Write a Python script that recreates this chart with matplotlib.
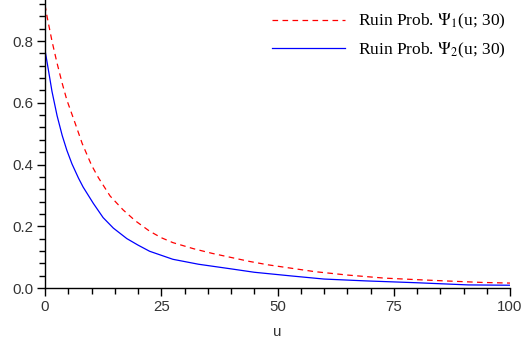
import matplotlib
matplotlib.use("Agg")
import matplotlib.pyplot as plt
from matplotlib.ticker import MultipleLocator, FormatStrFormatter

# ruin probability readings, psi_1 (red dashed) and psi_2 (blue)
u1 = [0, 0.5, 1.5, 2.6, 3.7, 4.7, 6.5, 8, 10, 11.5, 14, 16.8, 19.4, 22.5, 25,
      27.5, 32, 36, 40, 44, 48, 53, 58, 65, 73, 80, 86, 94, 100]
psi1 = [0.917, 0.875, 0.80, 0.728, 0.663, 0.609, 0.533, 0.468, 0.398, 0.357,
        0.298, 0.253, 0.218, 0.184, 0.163, 0.147, 0.127, 0.112, 0.099, 0.086,
        0.075, 0.064, 0.053, 0.042, 0.032, 0.027, 0.023, 0.018, 0.016]

u2 = [0, 0.8, 1.5, 2.6, 3.7, 4.7, 5.8, 7.2, 8.2, 10.4, 12.5, 14.7, 17.6, 20,
      22.5, 27.5, 33, 40, 45, 53, 60, 69, 80, 91, 100]
psi2 = [0.771, 0.70, 0.637, 0.558, 0.494, 0.446, 0.402, 0.356, 0.327, 0.274,
        0.228, 0.194, 0.160, 0.139, 0.119, 0.093, 0.077, 0.062, 0.051, 0.039,
        0.029, 0.023, 0.017, 0.010, 0.009]

labels = [r"Ruin Prob. $\Psi_1$(u; 30)", r"Ruin Prob. $\Psi_2$(u; 30)"]

plt.rcParams['mathtext.fontset'] = 'stix'

fig = plt.figure(figsize=(5.21, 3.41), dpi=100)
ax = fig.add_axes([45/521, 53/341, 465/521, 288/341])

ax.plot(u1, psi1, color='#ff0000', linewidth=0.9, dashes=(4.5, 3.5), label=labels[0])
ax.plot(u2, psi2, color='#0000ff', linewidth=0.9, label=labels[1])

ax.set_xlim(0, 100)
ax.set_ylim(0, 0.933)
ax.spines['top'].set_visible(False)
ax.spines['right'].set_visible(False)
for s in ['left', 'bottom']:
    ax.spines[s].set_linewidth(1.0)

ax.xaxis.set_major_locator(MultipleLocator(25))
ax.xaxis.set_minor_locator(MultipleLocator(5))
ax.yaxis.set_major_locator(MultipleLocator(0.2))
ax.yaxis.set_minor_locator(MultipleLocator(0.04))
ax.yaxis.set_major_formatter(FormatStrFormatter('%.1f'))
ax.tick_params(which='major', length=6, width=1.0, labelsize=10.8,
               labelcolor='#333333', pad=2.5)
ax.tick_params(which='minor', length=4, width=1.0)
for lab in ax.get_xticklabels() + ax.get_yticklabels():
    lab.set_family('Liberation Sans')

ax.set_xlabel('u', family='Liberation Sans', fontsize=10.8, color='#333333', labelpad=8)

leg = fig.legend(loc='upper left', bbox_to_anchor=(272/521, 1 - 12/341), frameon=False,
                 prop={'family': 'Liberation Serif', 'size': 12.5},
                 borderpad=0, borderaxespad=0,
                 handlelength=4.2, handletextpad=0.75, labelspacing=0.55)

fig.savefig('out.png', dpi=100)
